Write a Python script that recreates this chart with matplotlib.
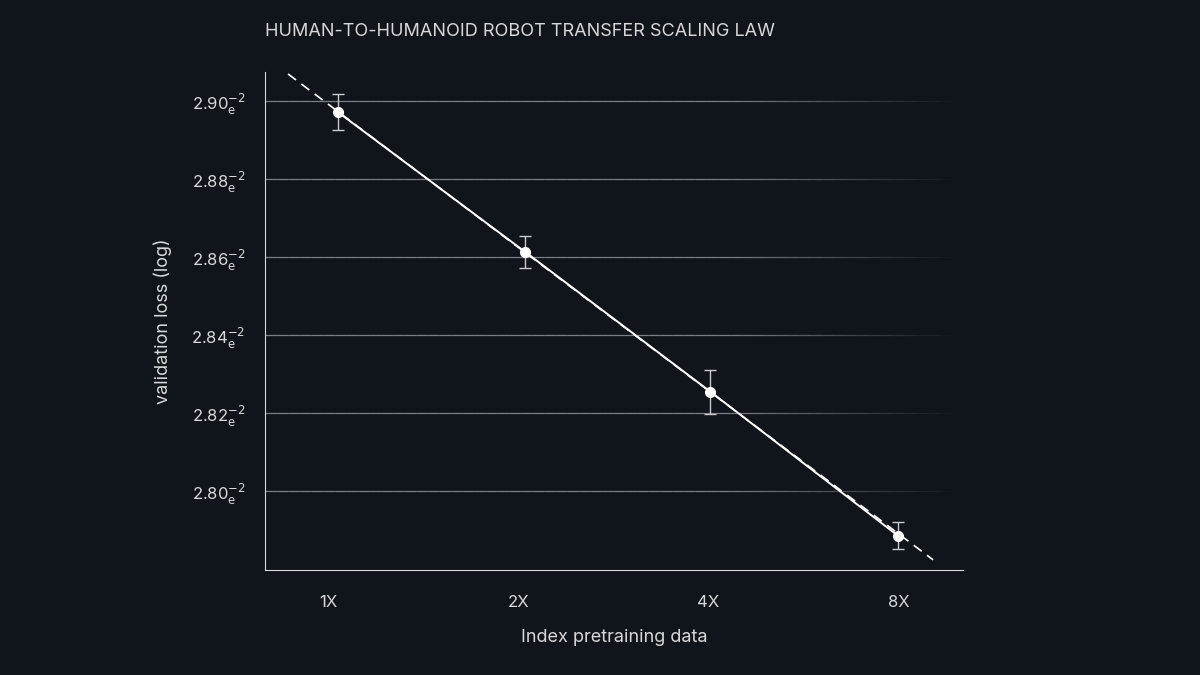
import numpy as np
import matplotlib
matplotlib.use('Agg')
import matplotlib.pyplot as plt

# data
tick_labels = ['1X', '2X', '4X', '8X']
x_pts = [0.05, 1.035, 2.01, 2.995]
loss = [2.8972, 2.8613, 2.8254, 2.7885]
err = [0.0046, 0.0041, 0.0056, 0.0035]
fit_x = [-0.21, 3.18]
fit_y = [2.9069, 2.7823]
y_ticks = [2.80, 2.82, 2.84, 2.86, 2.88, 2.90]

bg = '#10151c'
plt.rcParams['font.family'] = ['Inter', 'DejaVu Sans']
fig = plt.figure(figsize=(12, 6.75), dpi=100, facecolor=bg)
ax = fig.add_axes([265/1200, 1 - 570/675, 698/1200, 498/675], facecolor=bg)
ax.set_xlim(-0.331, 3.337)
ax.set_ylim(2.7797, 2.9074)

# fading grid lines
xs = np.linspace(-0.331, 3.27, 60)
for yv in y_ticks:
    for i in range(len(xs) - 1):
        a = 0.45 * min(1.0, (3.27 - xs[i]) / 1.2)
        ax.plot(xs[i:i+2], [yv, yv], color='white', alpha=a, lw=0.9,
                solid_capstyle='butt', zorder=1)

ax.plot(fit_x, fit_y, color='white', lw=1.2, ls=(0, (6, 4)), zorder=2)
ax.plot(x_pts, loss, color='white', lw=1.4, zorder=3)
ax.errorbar(x_pts, loss, yerr=err, fmt='o', color='white', ms=7,
            ecolor='#cccccc', elinewidth=1, capsize=4, capthick=1, zorder=4)

ax.set_xticks(range(4))
ax.set_xticklabels(tick_labels)
ax.set_yticks(y_ticks)
ax.set_yticklabels([r'%.2f$_{\rm e}^{-2}$' % v for v in y_ticks])
ax.tick_params(colors='#d8d8d8', labelsize=12, length=0, pad=14)
ax.tick_params(axis='x', pad=18)
for s in ['top', 'right']:
    ax.spines[s].set_visible(False)
for s in ['left', 'bottom']:
    ax.spines[s].set_color('#d8d8d8')
ax.set_xlabel('Index pretraining data', color='#d8d8d8', fontsize=13, labelpad=14)
ax.set_ylabel('validation loss (log)', color='#d8d8d8', fontsize=13, labelpad=14)
fig.text(265/1200, 1 - 31/675, 'HUMAN-TO-HUMANOID ROBOT TRANSFER SCALING LAW',
         color='#d8d8d8', fontsize=13, va='center', ha='left')

fig.savefig('out.png', dpi=100, facecolor=bg)
